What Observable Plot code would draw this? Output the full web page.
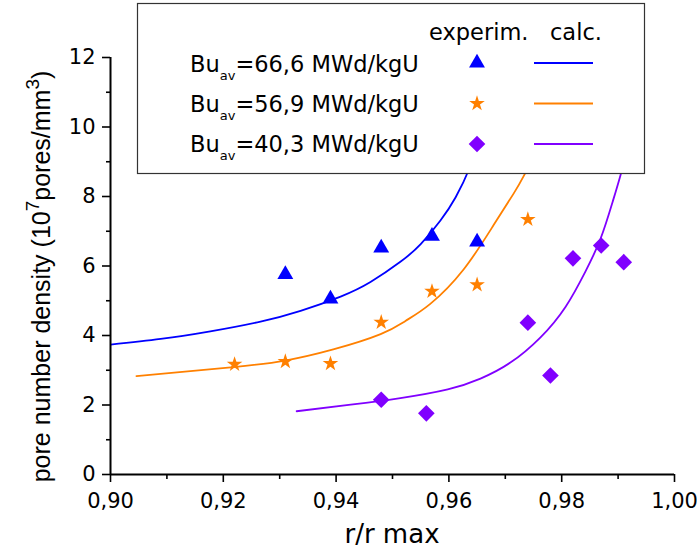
<!DOCTYPE html>
<html><head><meta charset="utf-8">
<script src="https://cdn.jsdelivr.net/npm/d3@7"></script>
<script src="https://cdn.jsdelivr.net/npm/@observablehq/plot@0.6"></script>
<style>
body{margin:0;background:#fff;}
#chart{position:relative;width:697px;height:555px;}
</style>
</head><body><div id="chart"></div>
<script>
// ---- data ----
const burnups = ["66,6", "56,9", "40,3"];
const seriesColors = ["#0000ff", "#ff8000", "#8000ff"];
const seriesSymbols = ["triangle", "star", "diamond2"];
const legendHeaders = ["experim.", "calc."];

const exp66x = [0.931, 0.939, 0.948, 0.957, 0.965];
const exp66y = [5.76, 5.05, 6.52, 6.86, 6.69];
const exp57x = [0.922, 0.931, 0.939, 0.948, 0.957, 0.965, 0.974];
const exp57y = [3.17, 3.25, 3.19, 4.38, 5.27, 5.46, 7.34];
const exp40x = [0.948, 0.956, 0.974, 0.978, 0.982, 0.987, 0.991];
const exp40y = [2.15, 1.76, 4.37, 2.85, 6.22, 6.59, 6.11];

const calc66x = [0.9000, 0.9089, 0.9177, 0.9266, 0.9337, 0.9408, 0.9461, 0.9514, 0.9550, 0.9585, 0.9612, 0.9638, 0.9665];
const calc66y = [3.74, 3.90, 4.12, 4.40, 4.71, 5.12, 5.54, 6.12, 6.63, 7.31, 7.98, 8.87, 10.08];
const calc57x = [0.9046, 0.9218, 0.9310, 0.9395, 0.9479, 0.9523, 0.9567, 0.9626, 0.9679, 0.9715, 0.9734, 0.9762];
const calc57y = [2.83, 3.09, 3.28, 3.60, 4.04, 4.42, 4.91, 5.90, 7.17, 8.09, 8.63, 9.50];
const calc40x = [0.9330, 0.9426, 0.9514, 0.9598, 0.9656, 0.9709, 0.9762, 0.9807, 0.9842, 0.9869, 0.9890, 0.9904, 0.9926];
const calc40y = [1.82, 2.01, 2.20, 2.45, 2.76, 3.22, 3.94, 4.83, 5.84, 6.79, 7.83, 8.60, 9.90];

const xTicks = [0.90, 0.92, 0.94, 0.96, 0.98, 1.00];
const xMinorTicks = [0.91, 0.93, 0.95, 0.97, 0.99];
const yTicks = [0, 2, 4, 6, 8, 10, 12];
const yMinorTicks = [1, 3, 5, 7, 9, 11];
const xTitle = "r/r max";

// ---- build tables ----
const expX = [exp66x, exp57x, exp40x], expY = [exp66y, exp57y, exp40y];
const calcX = [calc66x, calc57x, calc40x], calcY = [calc66y, calc57y, calc40y];
const exp = [], calc = [];
burnups.forEach((b, s) => {
  expX[s].forEach((x, i) => exp.push({s, x, y: expY[s][i]}));
  calcX[s].forEach((x, i) => calc.push({s, x, y: calcY[s][i]}));
});
const symbolR = {triangle: 5.9, star: 4.9, diamond2: 7.5};
const fmt = d => d.toFixed(2).replace(".", ",");

const marks = [];
burnups.forEach((b, s) => {
  marks.push(Plot.line(calc.filter(d => d.s === s), {x: "x", y: "y", stroke: seriesColors[s], strokeWidth: 1.8, curve: "natural", clip: true}));
});
burnups.forEach((b, s) => {
  marks.push(Plot.dot(exp.filter(d => d.s === s), {x: "x", y: "y", symbol: seriesSymbols[s], r: symbolR[seriesSymbols[s]], fill: seriesColors[s], stroke: "none"}));
});
marks.push(
  Plot.axisX(xTicks, {tickFormat: fmt, tickSize: 8, tickPadding: 11, strokeWidth: 1.6}),
  Plot.axisX(xMinorTicks, {tickFormat: null, text: null, tickSize: 5, strokeWidth: 1.6}),
  Plot.axisY(yTicks, {tickFormat: d => String(d), tickSize: 8, tickPadding: 7, strokeWidth: 1.6}),
  Plot.axisY(yMinorTicks, {tickFormat: null, text: null, tickSize: 4, strokeWidth: 1.6}),
  Plot.ruleY([0], {strokeWidth: 2}),
  Plot.ruleX([0.9], {strokeWidth: 2})
);

const plot = Plot.plot({
  width: 697, height: 555,
  marginLeft: 110, marginRight: 23, marginTop: 57, marginBottom: 81,
  x: {domain: [0.9, 1.0], label: null},
  y: {domain: [0, 12], label: null},
  style: {fontFamily: "DejaVu Sans", fontSize: "21px", color: "black", background: "white", overflow: "visible"},
  marks
});
document.getElementById("chart").appendChild(plot);

// ---- axis titles ----
const svg = d3.select(plot);
svg.append("text").attr("x", 392).attr("y", 543).attr("text-anchor", "middle")
  .attr("font-family", "DejaVu Sans").attr("font-size", 26).attr("fill", "black").text(xTitle);
const yl = svg.append("text").attr("transform", "translate(49.5,276.5) rotate(-90)")
  .attr("text-anchor", "middle").attr("font-family", "Liberation Sans").attr("font-size", 25).attr("fill", "black");
yl.append("tspan").text("pore number density (10");
yl.append("tspan").attr("dy", -11).attr("font-size", 19).text("7");
yl.append("tspan").attr("dy", 11).text("pores/mm");
yl.append("tspan").attr("dy", -11).attr("font-size", 19).text("3");
yl.append("tspan").attr("dy", 11).text(")");

// ---- legend ----
const lg = svg.append("g").attr("font-family", "DejaVu Sans").attr("font-size", 22.5)
  .attr("fill", "black").attr("text-anchor", "start");
lg.append("rect").attr("x", 137.5).attr("y", 3.5).attr("width", 507).attr("height", 170)
  .attr("fill", "white").attr("stroke", "#333").attr("stroke-width", 1.2);
lg.append("text").attr("x", 429).attr("y", 40).text(legendHeaders[0]);
lg.append("text").attr("x", 550).attr("y", 40).text(legendHeaders[1]);
const d3sym = {triangle: d3.symbolTriangle, star: d3.symbolStar, diamond2: d3.symbolDiamond2};
burnups.forEach((b, s) => {
  const base = 72 + 40 * s;
  const t = lg.append("text").attr("x", 190).attr("y", base);
  t.append("tspan").text("Bu");
  t.append("tspan").attr("dy", 8).attr("font-size", 13).text("av");
  t.append("tspan").attr("dy", -8).text("=" + b + " MWd/kgU");
  const cy = 63 + 40.5 * s;
  const sym = seriesSymbols[s];
  lg.append("path").attr("transform", `translate(477,${cy})`)
    .attr("d", d3.symbol(d3sym[sym], symbolR[sym] * symbolR[sym] * Math.PI)())
    .attr("fill", seriesColors[s]);
  lg.append("line").attr("x1", 534).attr("x2", 593).attr("y1", cy).attr("y2", cy)
    .attr("stroke", seriesColors[s]).attr("stroke-width", 2);
});
</script>
</body></html>
